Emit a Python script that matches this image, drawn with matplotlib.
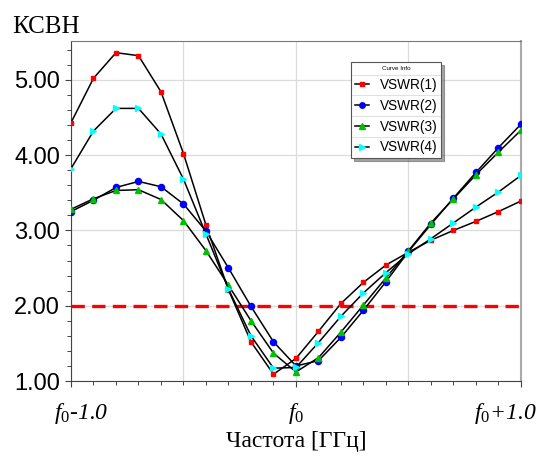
import matplotlib

matplotlib.use("Agg")
import matplotlib.pyplot as plt
import numpy as np
from matplotlib.ticker import MultipleLocator

plt.rcParams["mathtext.fontset"] = "custom"
plt.rcParams["mathtext.rm"] = "Liberation Serif"
plt.rcParams["mathtext.it"] = "Liberation Serif:italic"

# frequency offset from f0, GHz (step 0.1)
freq = np.round(np.arange(-1.0, 1.0001, 0.1), 2)

vswr1 = [4.43, 5.02, 5.36, 5.32, 4.84, 4.02, 3.07, 2.21, 1.52, 1.09, 1.30,
         1.66, 2.03, 2.31, 2.54, 2.71, 2.87, 3.00, 3.12, 3.25, 3.39]
vswr2 = [3.25, 3.40, 3.57, 3.65, 3.58, 3.35, 2.99, 2.50, 1.99, 1.52, 1.20,
         1.27, 1.58, 1.94, 2.32, 2.72, 3.08, 3.43, 3.77, 4.10, 4.41]
vswr3 = [3.28, 3.42, 3.53, 3.54, 3.41, 3.13, 2.73, 2.27, 1.80, 1.37, 1.12,
         1.31, 1.65, 2.01, 2.37, 2.73, 3.10, 3.42, 3.74, 4.04, 4.33]
vswr4 = [3.82, 4.32, 4.62, 4.62, 4.28, 3.68, 2.95, 2.22, 1.60, 1.17, 1.18,
         1.51, 1.86, 2.17, 2.44, 2.69, 2.89, 3.10, 3.31, 3.51, 3.73]

series = [
    ("VSWR(1)", vswr1, "#ff0000", "s", 2.7),
    ("VSWR(2)", vswr2, "#0000ff", "o", 4.4),
    ("VSWR(3)", vswr3, "#00c000", "^", 4.2),
    ("VSWR(4)", vswr4, "#00ffff", ">", 4.2),
]

limit_level = 2.0
xticks = [-1.0, 0.0, 1.0]
xticklabels = [r"$f_0$-1.0", r"$f_0$", r"$f_0$+1.0"]
xlabel_shift = [0.045, 0.0, -0.07]   # end labels sit a bit inside the axis ends

fig = plt.figure(figsize=(5.39, 4.57), dpi=100)
ax = fig.add_axes([0.1317, 0.1663, 0.8349, 0.744])

ax.plot([freq[0], freq[-1]], [limit_level, limit_level], "--", color="#ff0000",
        lw=2.4, dashes=(4, 2.2), zorder=2)

for name, vals, color, marker, ms in series:
    ax.plot(freq, vals, "-", color="black", lw=1.1, marker=marker, ms=ms,
            mfc=color, mec=color, label=name, zorder=3)

ax.set_xlim(-1.0, 1.0)
ax.set_ylim(1.0, 5.515)
ax.set_yticks([1, 2, 3, 4, 5])
ax.set_yticklabels([f"{v:.2f}" for v in [1, 2, 3, 4, 5]],
                   fontfamily="Liberation Sans", fontsize=17)
ax.yaxis.set_minor_locator(MultipleLocator(0.2))
ax.set_xticks(xticks)
ax.set_xticklabels([])
ax.xaxis.set_minor_locator(MultipleLocator(0.1))
for x, lab, dx in zip(xticks, xticklabels, xlabel_shift):
    ax.text(x + dx, -0.095, lab, transform=ax.get_xaxis_transform(), ha="center",
            va="center", fontfamily="Liberation Serif", fontstyle="italic", fontsize=17)

ax.grid(True, which="major", color="#dcdcdc", lw=0.9)
ax.set_axisbelow(True)
for v in [-0.5, 0.5]:
    ax.axvline(v, color="#dcdcdc", lw=0.9, zorder=0)

ax.tick_params(which="major", direction="out", length=4, width=0.8, color="#444444", pad=4)
ax.tick_params(which="minor", direction="out", length=3, width=0.7, color="#444444")
ax.spines["left"].set_color("#444444")
ax.spines["bottom"].set_color("#444444")
ax.spines["top"].set_color("#777777")
ax.spines["right"].set_color("#aaaaaa")
ax.spines["right"].set_linewidth(1.5)

ax.set_xlabel("Частота [ГГц]", fontfamily="Liberation Serif", fontsize=17, labelpad=28)
fig.text(12 / 539, 1 - 33 / 457, "КСВН", fontfamily="Liberation Serif", fontsize=18,
         ha="left", va="baseline")

leg = ax.legend(loc="upper left", bbox_to_anchor=(0.622, 0.938), borderaxespad=0,
                title="Curve Info", title_fontproperties={"size": 4.5, "family": "Liberation Sans"},
                prop={"family": "Liberation Sans", "size": 9.8}, fancybox=False, shadow=True,
                frameon=True, handlelength=1.0, handletextpad=0.8, labelspacing=0.5,
                borderpad=0.3, markerscale=0.9)
leg.get_frame().set_edgecolor("#555555")
leg.get_frame().set_linewidth(0.8)

# thin separators between legend rows
fig.canvas.draw()
renderer = fig.canvas.get_renderer()
frame = leg.get_frame().get_window_extent(renderer)
rows = [t.get_window_extent(renderer) for t in leg.get_texts()]
tb = leg.get_title().get_window_extent(renderer)
seps = [(tb.y0 + rows[0].y1) / 2] + [(rows[i].y0 + rows[i + 1].y1) / 2 for i in range(3)]
inv = fig.transFigure.inverted()
for y in seps:
    (x0, yy), (x1, _) = inv.transform([(frame.x0 + 1, y), (frame.x1 - 1, y)])
    fig.add_artist(plt.Line2D([x0, x1], [yy, yy], color="#e0e0e0", lw=0.7, zorder=10))

fig.savefig("out.png", dpi=100)
